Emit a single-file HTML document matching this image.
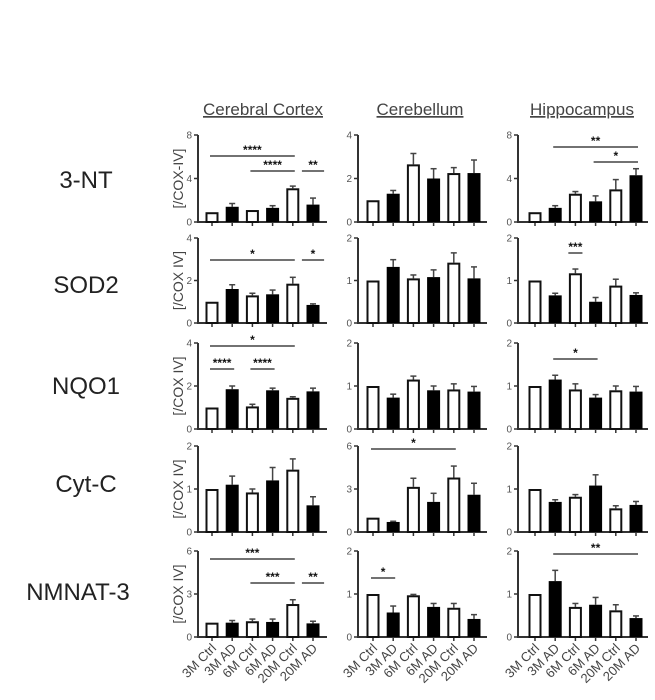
<!DOCTYPE html>
<html><head><meta charset="utf-8"><style>
html,body{margin:0;padding:0;background:#fff;width:655px;height:700px;overflow:hidden}
svg{display:block}
</style></head><body>
<svg id="s" width="655" height="700" xmlns="http://www.w3.org/2000/svg" font-family="Liberation Sans, sans-serif">
<g font-size="17" fill="#444" text-anchor="middle">
<text x="263" y="115" text-decoration="underline">Cerebral Cortex</text>
<text x="420" y="115" text-decoration="underline">Cerebellum</text>
<text x="582" y="115" text-decoration="underline">Hippocampus</text>
</g>
<g font-size="24" fill="#222" text-anchor="middle">
<text x="86" y="188">3-NT</text>
<text x="86" y="293">SOD2</text>
<text x="86" y="394">NQO1</text>
<text x="86" y="492">Cyt-C</text>
<text x="78" y="600">NMNAT-3</text>
</g>
</svg>
<script>
var s=document.getElementById('s'),h='';
var rows=[[135,222],[238,323],[343,429],[446,532],[551,637]];
var cols=[[198,212,327],[358,373,487],[518,535,648]];
var D=[
 [[8,[.9,1.4,1.1,1.3,3.1,1.6],[0,.3,0,.2,.2,.6],[[0,4,156,'****'],[2,4,171,'****'],[4.55,5.45,171,'**']]],
  [4,[1,1.3,2.65,2,2.25,2.25],[0,.15,.5,.45,.25,.6],[]],
  [8,[.9,1.3,2.6,1.9,3,4.3],[0,.2,.2,.5,.9,.6],[[1,5,147,'**'],[3,5,162,'*']]]],
 [[4,[1,1.6,1.3,1.35,1.85,.85],[0,.2,.1,.2,.3,.05],[[0,4,260,'*'],[4.55,5.45,260,'*']]],
  [2,[1,1.32,1.05,1.08,1.42,1.05],[0,.17,.08,.17,.23,.27],[]],
  [2,[1,.65,1.17,.5,.88,.66],[0,.05,.1,.1,.15,.05],[[1.75,2.25,253,'***']]]],
 [[4,[1,1.85,1.05,1.8,1.45,1.75],[0,.15,.1,.1,.05,.15],[[0,4,346,'*'],[0,1,369,'****'],[2,3,369,'****']]],
  [2,[1,.73,1.15,.9,.92,.87],[0,.08,.08,.1,.13,.12],[]],
  [2,[1,1.15,.92,.73,.9,.87],[0,.1,.13,.07,.1,.12],[[1,3,359,'*']]]],
 [[2,[1,1.1,.92,1.2,1.45,.62],[0,.2,.08,.3,.25,.2],[]],
  [6,[1,.7,3.15,2.1,3.8,2.6],[0,.05,.6,.6,.8,.8],[[0,4,449,'*']]],
  [2,[1,.7,.82,1.08,.55,.63],[0,.05,.05,.25,.06,.08],[]]],
 [[6,[1,1,1.1,1.05,2.3,.95],[0,.15,.15,.2,.3,.15],[[0,4,559,'***'],[2,4,583,'***'],[4.55,5.45,583,'**']]],
  [2,[1,.57,.97,.7,.68,.42],[0,.15,.02,.08,.1,.1],[[0,1,578,'*']]],
  [2,[1,1.3,.7,.75,.62,.44],[0,.25,.08,.17,.13,.05],[[1,5,554,'**']]]]
];
var ylab=['[/COX-IV]','[/COX IV]','[/COX IV]','[/COX IV]','[/COX IV]'];
var xl=['3M Ctrl','3M AD','6M Ctrl','6M AD','20M Ctrl','20M AD'];
for(var r=0;r<5;r++){var t=rows[r][0],b=rows[r][1];
 h+='<text x="179" y="'+((t+b)/2)+'" font-size="14" fill="#444" text-anchor="middle" transform="rotate(-90 179 '+((t+b)/2)+')" dy="4">'+ylab[r]+'</text>';
 for(var c=0;c<3;c++){var d=D[r][c],ax=cols[c][0],bx=cols[c][1],en=cols[c][2],mx=d[0];
  var Y=function(v){return b-(b-t)*v/mx};
  h+='<line x1="'+ax+'" y1="'+t+'" x2="'+ax+'" y2="'+b+'" stroke="#333" stroke-width="2"/>';
  h+='<line x1="'+(ax-1)+'" y1="'+b+'" x2="'+en+'" y2="'+b+'" stroke="#333" stroke-width="2"/>';
  [0,mx/2,mx].forEach(function(v){h+='<line x1="'+(ax-4)+'" y1="'+Y(v)+'" x2="'+ax+'" y2="'+Y(v)+'" stroke="#333" stroke-width="1.5"/><text x="'+(ax-6)+'" y="'+(Y(v)+3.5)+'" font-size="10" fill="#555" text-anchor="end">'+v+'</text>';});
  for(var i=0;i<6;i++){var x=bx+20.2*i,v=d[1][i],e=d[2][i],yt=Y(v);
   h+='<line x1="'+x+'" y1="'+b+'" x2="'+x+'" y2="'+(b+4)+'" stroke="#333" stroke-width="1.5"/>';
   if(e>0){var ye=Y(v+e);h+='<line x1="'+x+'" y1="'+yt+'" x2="'+x+'" y2="'+ye+'" stroke="#444" stroke-width="1.5"/><line x1="'+(x-3)+'" y1="'+ye+'" x2="'+(x+3)+'" y2="'+ye+'" stroke="#444" stroke-width="1.5"/>';}
   if(i%2) h+='<rect x="'+(x-6.5)+'" y="'+yt+'" width="13" height="'+(b-yt)+'" fill="#000"/>';
   else h+='<rect x="'+(x-5.5)+'" y="'+(yt+1)+'" width="11" height="'+(b-yt-1)+'" fill="#fff" stroke="#111" stroke-width="2"/>';
   if(r==4){h+='<text x="'+(x+5)+'" y="'+(b+12)+'" font-size="13" fill="#444" text-anchor="end" transform="rotate(-45 '+(x+5)+' '+(b+12)+')">'+xl[i]+'</text>';}
  }
  d[3].forEach(function(q){var x1=bx+20.2*q[0]-2,x2=bx+20.2*q[1]+2;
   h+='<line x1="'+x1+'" y1="'+q[2]+'" x2="'+x2+'" y2="'+q[2]+'" stroke="#444" stroke-width="1.5"/><text x="'+((x1+x2)/2)+'" y="'+(q[2]-2)+'" font-size="12" font-weight="bold" fill="#111" text-anchor="middle">'+q[3]+'</text>';});
 }}
s.insertAdjacentHTML('beforeend',h);
</script>
</body></html>
